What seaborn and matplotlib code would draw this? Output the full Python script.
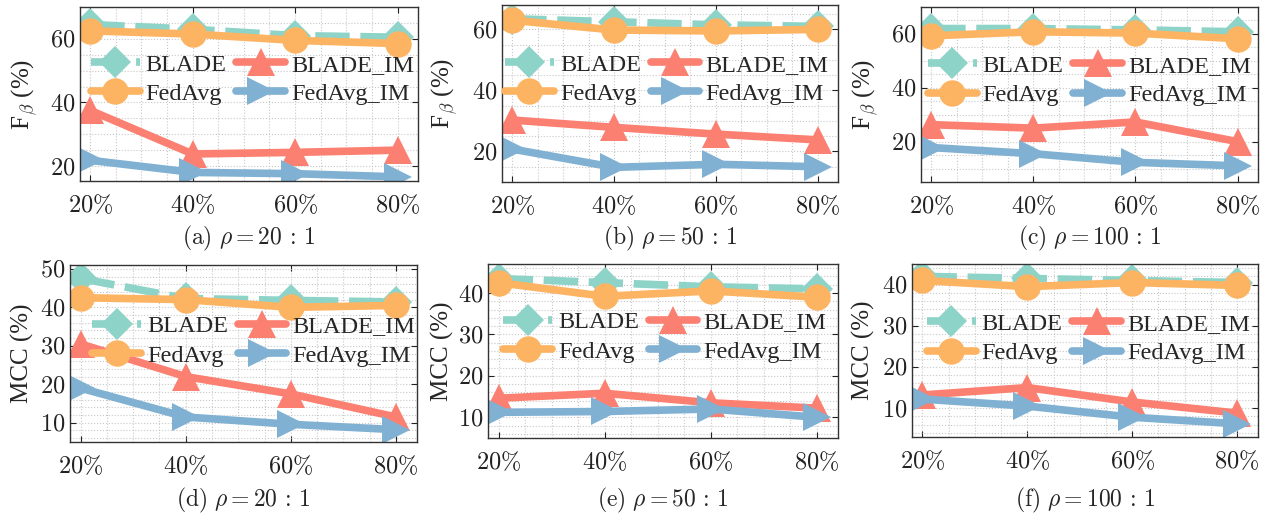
import pandas as pd
import matplotlib.pyplot as plt
import matplotlib.ticker as mticker
import seaborn as sns

# x values (fraction of clients, %) and method names
ratios = [20, 40, 60, 80]
methods = ['BLADE', 'FedAvg', 'BLADE_IM', 'FedAvg_IM']

# F_beta (%) per panel, rows follow `methods`
fb20 = [[64.5, 63.0, 61.0, 60.5], [62.5, 61.5, 59.5, 58.5],
        [37.5, 23.8, 24.3, 25.0], [21.8, 18.0, 17.6, 16.6]]
fb50 = [[63.5, 62.5, 61.5, 61.0], [63.0, 59.8, 59.5, 60.0],
        [30.3, 27.9, 25.7, 23.8], [20.8, 14.8, 15.8, 15.0]]
fb100 = [[62.0, 62.0, 61.5, 60.8], [59.3, 60.8, 60.3, 58.2],
         [26.3, 25.0, 27.3, 20.0], [17.8, 15.5, 12.3, 11.0]]

# MCC (%) per panel
mcc20 = [[47.5, 42.3, 41.8, 41.4], [42.5, 42.0, 40.0, 40.5],
         [30.5, 22.0, 17.5, 11.5], [19.0, 11.5, 9.6, 8.2]]
mcc50 = [[43.5, 42.5, 41.5, 41.0], [42.5, 39.2, 40.5, 39.0],
         [14.6, 15.8, 13.5, 12.2], [11.2, 11.4, 12.0, 10.0]]
mcc100 = [[42.0, 41.5, 41.0, 40.5], [41.0, 39.5, 40.5, 39.8],
          [13.2, 15.0, 11.5, 8.8], [12.2, 10.5, 7.8, 6.2]]

captions = ['(a)', '(b)', '(c)', '(d)', '(e)', '(f)']
rhos = ['20:1', '50:1', '100:1', '20:1', '50:1', '100:1']

sns.set_style('ticks')
plt.rcParams['font.family'] = ['Liberation Serif', 'DejaVu Serif']
plt.rcParams['mathtext.fontset'] = 'cm'

palette = {'BLADE': '#8DD3C7', 'FedAvg': '#FDB462',
           'BLADE_IM': '#FB8072', 'FedAvg_IM': '#80B1D3'}
markers = {'BLADE': 'D', 'FedAvg': 'o', 'BLADE_IM': '^', 'FedAvg_IM': '>'}
dashes = {'BLADE': (4.5, 1.4), 'FedAvg': '', 'BLADE_IM': '', 'FedAvg_IM': ''}
msizes = {'BLADE': 16, 'FedAvg': 19, 'BLADE_IM': 20, 'FedAvg_IM': 20}

# panel boxes in pixels: left, top, right, bottom
boxes = [(80, 7, 418, 181), (502, 5, 838, 182), (921, 7, 1258, 182),
         (70, 265, 417, 442), (488, 264, 838, 438), (912, 264, 1258, 437)]
panels = [fb20, fb50, fb100, mcc20, mcc50, mcc100]
ylims = [(15.3, 70), (10, 68), (5, 70), (5, 51), (5, 47), (3, 45)]
yticks = [[20, 40, 60]] * 3 + [[10, 20, 30, 40, 50], [10, 20, 30, 40], [10, 20, 30, 40]]
leg_pos = [(0.51, 0.585), (0.49, 0.58), (0.5, 0.58), (0.53, 0.57), (0.505, 0.58), (0.51, 0.57)]
ylab_x = [24, 444, 865, 22, 442, 863]   # label centre, pixels

W, H = 1275, 515
fig = plt.figure(figsize=(W / 100, H / 100), dpi=100)

for i, vals in enumerate(panels):
    l, t, r, b = boxes[i]
    ax = fig.add_axes([l / W, 1 - b / H, (r - l) / W, (b - t) / H])

    df = pd.DataFrame({
        'ratio': ratios * len(methods),
        'value': [v for row in vals for v in row],
        'method': [m for m in methods for _ in ratios],
    })
    sns.lineplot(data=df, x='ratio', y='value', hue='method', style='method',
                 hue_order=methods, style_order=methods, palette=palette,
                 markers=markers, dashes=dashes, linewidth=5.5,
                 markeredgewidth=0, legend=False, ax=ax)
    for line, m in zip(ax.lines, methods):
        line.set_markersize(msizes[m])

    ax.set_xlim(18, 84)
    ax.set_ylim(*ylims[i])
    ax.set_xticks(ratios)
    ax.set_yticks(yticks[i])
    ax.xaxis.set_major_formatter(mticker.FuncFormatter(lambda v, p: rf'${v:.0f}\%$'))
    ax.yaxis.set_major_formatter(mticker.FuncFormatter(lambda v, p: rf'${v:.0f}$'))
    ax.xaxis.set_minor_locator(mticker.MultipleLocator(5))
    ax.yaxis.set_minor_locator(mticker.AutoMinorLocator(4 if i < 3 else 5))
    ax.tick_params(which='both', direction='in', top=True, right=True,
                   labelsize=17.5, colors='#222222', length=4)
    ax.tick_params(which='minor', length=0)
    ax.tick_params(axis='x', pad=9)
    ax.grid(which='both', linestyle=':', color='#c8c8c8', linewidth=0.8)
    for sp in ax.spines.values():
        sp.set_color('#333333')
        sp.set_linewidth(1)
    ax.set_xlabel('')
    ax.set_ylabel(r'F$_\beta$ (%)' if i < 3 else 'MCC (%)', fontsize=18, va='center')
    ax.yaxis.set_label_coords((ylab_x[i] - l) / (r - l), 0.5)

    ax.legend(handles=ax.lines[:4], labels=methods, ncol=2, frameon=False,
              loc='center', bbox_to_anchor=leg_pos[i], fontsize=17.5,
              handlelength=2.0, handletextpad=0.25, columnspacing=0.4,
              labelspacing=0.3, borderpad=0.1)

    cy = 238 if i < 3 else 500
    fig.text((l + r) / 2 / W, 1 - cy / H,
             r'$\mathrm{' + captions[i] + r'}\ \rho = ' + rhos[i].replace(':', r'\,:\,') + '$',
             ha='center', va='center', fontsize=17)

plt.savefig('out.png', dpi=100)
